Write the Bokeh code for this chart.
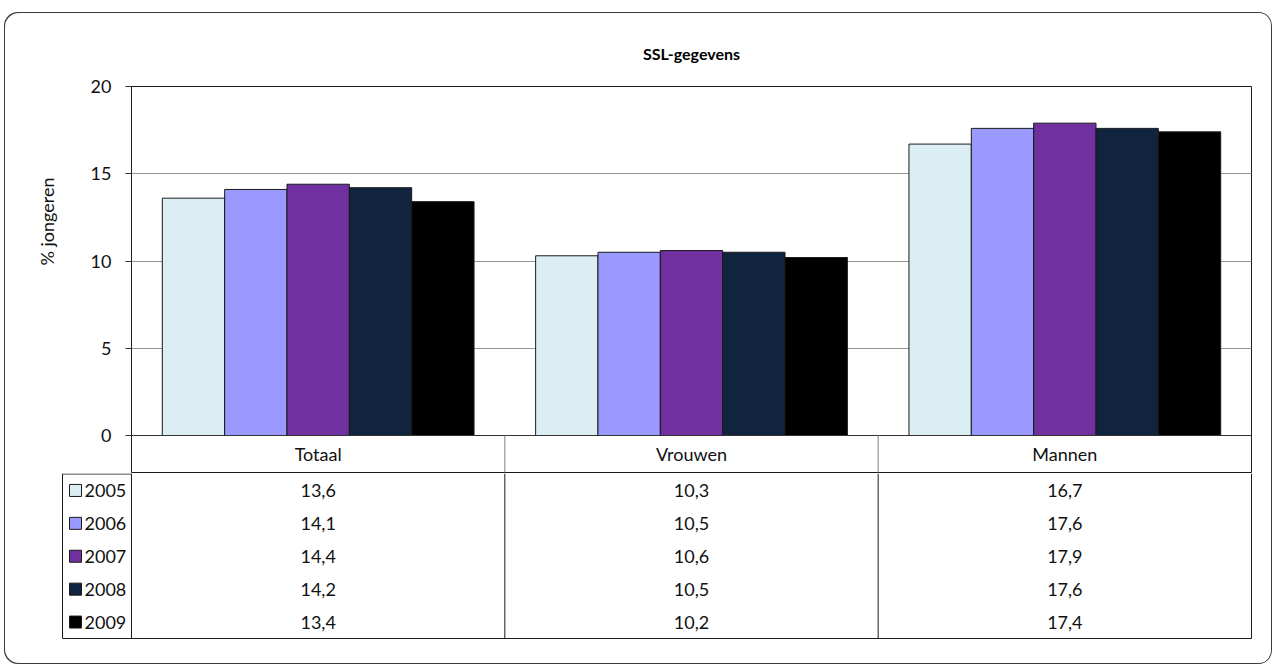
from bokeh.plotting import figure
from bokeh.models import Range1d, FixedTicker, Title, ColumnDataSource
from bokeh.core.properties import value
from bokeh.embed import file_html
from bokeh.resources import INLINE

# ---- data ----
categories = ["Totaal", "Vrouwen", "Mannen"]
years = ["2005", "2006", "2007", "2008", "2009"]
v2005 = [13.6, 10.3, 16.7]
v2006 = [14.1, 10.5, 17.6]
v2007 = [14.4, 10.6, 17.9]
v2008 = [14.2, 10.5, 17.6]
v2009 = [13.4, 10.2, 17.4]
y_ticks = [0, 5, 10, 15, 20]
title_text = "SSL-gegevens"
y_label = "% jongeren"

series = [v2005, v2006, v2007, v2008, v2009]
colors = ["#DBEEF4", "#9999FF", "#7030A0", "#10243F", "#000000"]

# ---- style / layout ----
FONT = "Lato"
FS = "18px"
TXT = "#111111"
LINE = "#1a1a1a"
BOX = "#3a3a3a"
W = 1268
ncat = len(categories)
nrow = len(years)
PX = 1 / 373.333          # one pixel in x data units
header_u = 2.12           # header row height in y units of the chart
legend_w = 69 * PX        # width of the legend column of the table
bw = 0.167                # bar width

# ---- chart + header row ----
p1 = figure(width=W, height=461, output_backend="svg", toolbar_location=None,
            x_range=Range1d(0, ncat), y_range=Range1d(-header_u, 20),
            x_axis_location=None, title=title_text,
            min_border_left=127, min_border_right=21, min_border_top=74, min_border_bottom=1)
p1.title.align = "center"
p1.title.text_font = FONT
p1.title.text_font_size = "16px"
p1.title.text_font_style = "bold"
p1.title.text_color = "#000000"
p1.title.standoff = 47
p1.background_fill_color = "white"
p1.border_fill_color = None
p1.outline_line_color = LINE
p1.outline_line_width = 1

ax = p1.yaxis[0]
ax.ticker = FixedTicker(ticks=y_ticks)
ax.bounds = (0, 20)
ax.major_tick_out = 6
ax.major_tick_in = 0
ax.minor_tick_line_color = None
ax.axis_line_color = LINE
ax.major_tick_line_color = "#333333"
ax.major_label_standoff = 14
ax.major_label_text_font = FONT
ax.major_label_text_font_size = FS
ax.major_label_text_color = TXT

p1.add_layout(Title(text=y_label, align="right", offset=91, vertical_align="middle",
                    standoff=58, text_font=FONT, text_font_size=FS,
                    text_font_style="normal", text_color=TXT), "left")

p1.xgrid.visible = False
p1.ygrid.ticker = FixedTicker(ticks=[t for t in y_ticks if 0 < t < 20])
p1.ygrid.grid_line_color = "#969696"

for j, (vals, col) in enumerate(zip(series, colors)):
    xs = [i + 0.5 + (j - (nrow - 1) / 2) * bw for i in range(ncat)]
    src = ColumnDataSource(dict(x=xs, top=vals))
    p1.vbar(x="x", top="top", bottom=0, width=bw, source=src,
            fill_color=col, line_color=LINE, line_width=1)

p1.segment(x0=[0], y0=[0], x1=[ncat], y1=[0], line_color="#333333", line_width=1)
p1.segment(x0=list(range(1, ncat)), y0=[0] * (ncat - 1), x1=list(range(1, ncat)),
           y1=[-header_u] * (ncat - 1), line_color="#808080", line_width=1)
p1.text(x=[i + 0.5 for i in range(ncat)], y=[-header_u / 2] * ncat, text=categories,
        text_font=value(FONT), text_font_size=FS, text_align="center",
        text_baseline="middle", text_color=TXT)

# ---- data table rows ----
pad_t = 0.015
pad_b = 0.03
p2 = figure(width=W, height=191, output_backend="svg", toolbar_location=None,
            x_range=Range1d(-legend_w - PX, ncat + PX), y_range=Range1d(-nrow - pad_b, pad_t),
            x_axis_location=None, y_axis_location=None,
            min_border_left=57, min_border_right=20, min_border_top=0, min_border_bottom=25)
p2.background_fill_color = "white"
p2.border_fill_color = None
p2.outline_line_color = None
p2.grid.visible = False

# top line of the legend column and bottom line of the table
p2.segment(x0=[-legend_w, -legend_w], y0=[0, -nrow], x1=[0, ncat], y1=[0, -nrow],
           line_color=LINE, line_width=1)
# vertical lines
vx = [-legend_w] + list(range(0, ncat + 1))
p2.segment(x0=vx, y0=[pad_t] * len(vx), x1=vx, y1=[-nrow] * len(vx), line_color=LINE, line_width=1)

# legend keys and year labels
ky = [-(k + 0.5) for k in range(nrow)]
p2.scatter(x=[-legend_w + 13 * PX] * nrow, y=ky, marker="square", size=12,
           fill_color=colors, line_color=LINE, line_width=1)
p2.text(x=[-legend_w + 22 * PX] * nrow, y=ky, text=years, text_font=value(FONT),
        text_font_size=FS, text_align="left", text_baseline="middle", text_color=TXT)

# value cells
tx, ty, tt = [], [], []
for k, vals in enumerate(series):
    for i, v in enumerate(vals):
        tx.append(i + 0.5)
        ty.append(-(k + 0.5))
        tt.append(f"{v:.1f}".replace(".", ","))
p2.text(x=tx, y=ty, text=tt, text_font=value(FONT), text_font_size=FS,
        text_align="center", text_baseline="middle", text_color=TXT)

p1.styles = {"margin-left": "4px", "margin-top": "12px", "border-radius": "14px 14px 0 0",
             "box-shadow": f"inset 1px 1px 0 0 {BOX}, inset -1px 0 0 0 {BOX}"}
p2.styles = {"margin-left": "4px", "border-radius": "0 0 14px 14px",
             "box-shadow": f"inset 1px -1px 0 0 {BOX}, inset -1px 0 0 0 {BOX}"}

open("out.html", "w").write(file_html([p1, p2], INLINE))
